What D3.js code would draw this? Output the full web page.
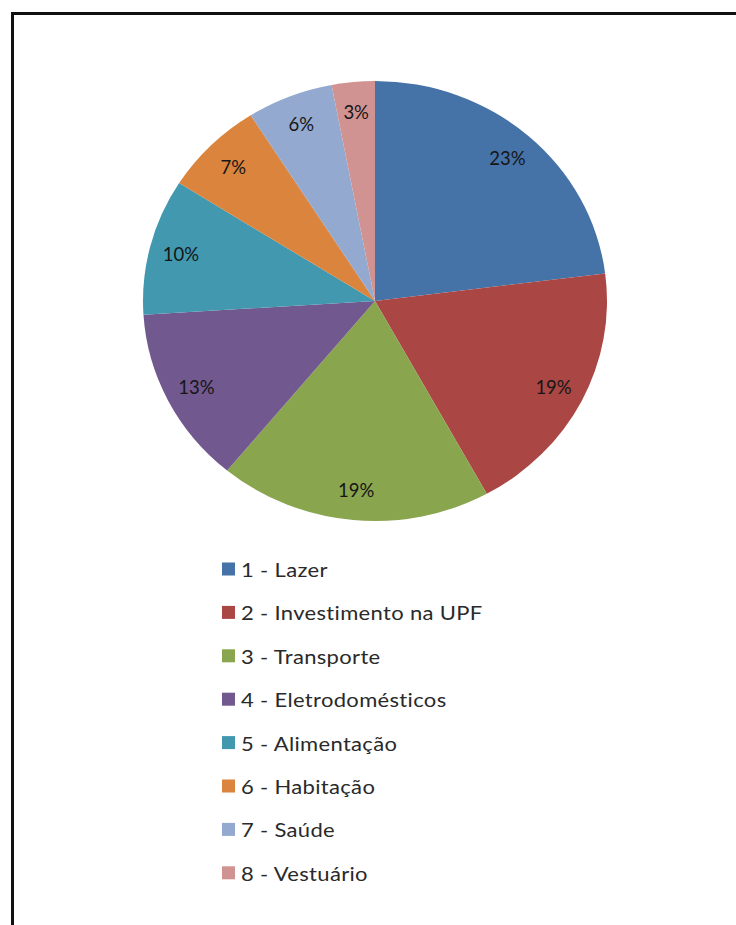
<!DOCTYPE html>
<html><head><meta charset="utf-8">
<script src="https://cdn.jsdelivr.net/npm/d3@7"></script>
<style>html,body{margin:0;padding:0;background:#fff;}svg{display:block;}</style>
</head><body>
<svg id="chart" width="736" height="925"></svg>
<script>
const categories = ["1 - Lazer","2 - Investimento na UPF","3 - Transporte","4 - Eletrodomésticos","5 - Alimentação","6 - Habitação","7 - Saúde","8 - Vestuário"];
const values = [23,19,19,13,10,7,6,3];
const labels = ["23%","19%","19%","13%","10%","7%","6%","3%"];
const colors = ["#4572A7","#AA4643","#89A54E","#71588F","#4198AF","#DB843D","#93A9CF","#D19392"];

const svg = d3.select("#chart");
svg.append("rect").attr("x",12.5).attr("y",13.5).attr("width",760).attr("height",940)
  .attr("fill","none").attr("stroke","#111").attr("stroke-width",3);

const cx = 375, cy = 301, r = 220, sx = 232/220;
const pie = d3.pie().sort(null).value(d=>d)(values);
const arc = d3.arc().innerRadius(0).outerRadius(r);
const labelArc = d3.arc().innerRadius(190).outerRadius(190);

const g = svg.append("g").attr("transform",`translate(${cx},${cy}) scale(${sx},1)`);
g.selectAll("path").data(pie).join("path").attr("d",arc).attr("fill",(d,i)=>colors[i]);

const lg = svg.append("g").attr("transform",`translate(${cx},${cy})`);
lg.selectAll("text").data(pie).join("text")
  .attr("x",d=>labelArc.centroid(d)[0]*sx).attr("y",d=>labelArc.centroid(d)[1])
  .attr("text-anchor","middle").attr("dominant-baseline","central")
  .attr("font-family","Lato, 'Open Sans', sans-serif").attr("font-size",18.5)
  .attr("fill","#161616").text((d,i)=>labels[i]);

const leg = svg.append("g");
const row = leg.selectAll("g").data(categories).join("g")
  .attr("transform",(d,i)=>`translate(222,${569 + i*43.4})`);
row.append("rect").attr("x",0).attr("y",-6.5).attr("width",13).attr("height",13).attr("fill",(d,i)=>colors[i]);
row.append("text").attr("transform","translate(19,0) scale(1.1,1)").attr("dominant-baseline","central")
  .attr("font-family","Lato, 'Open Sans', sans-serif").attr("font-size",20).attr("letter-spacing",0.3)
  .attr("fill","#2a2a2a").text(d=>d);
</script>
</body></html>
